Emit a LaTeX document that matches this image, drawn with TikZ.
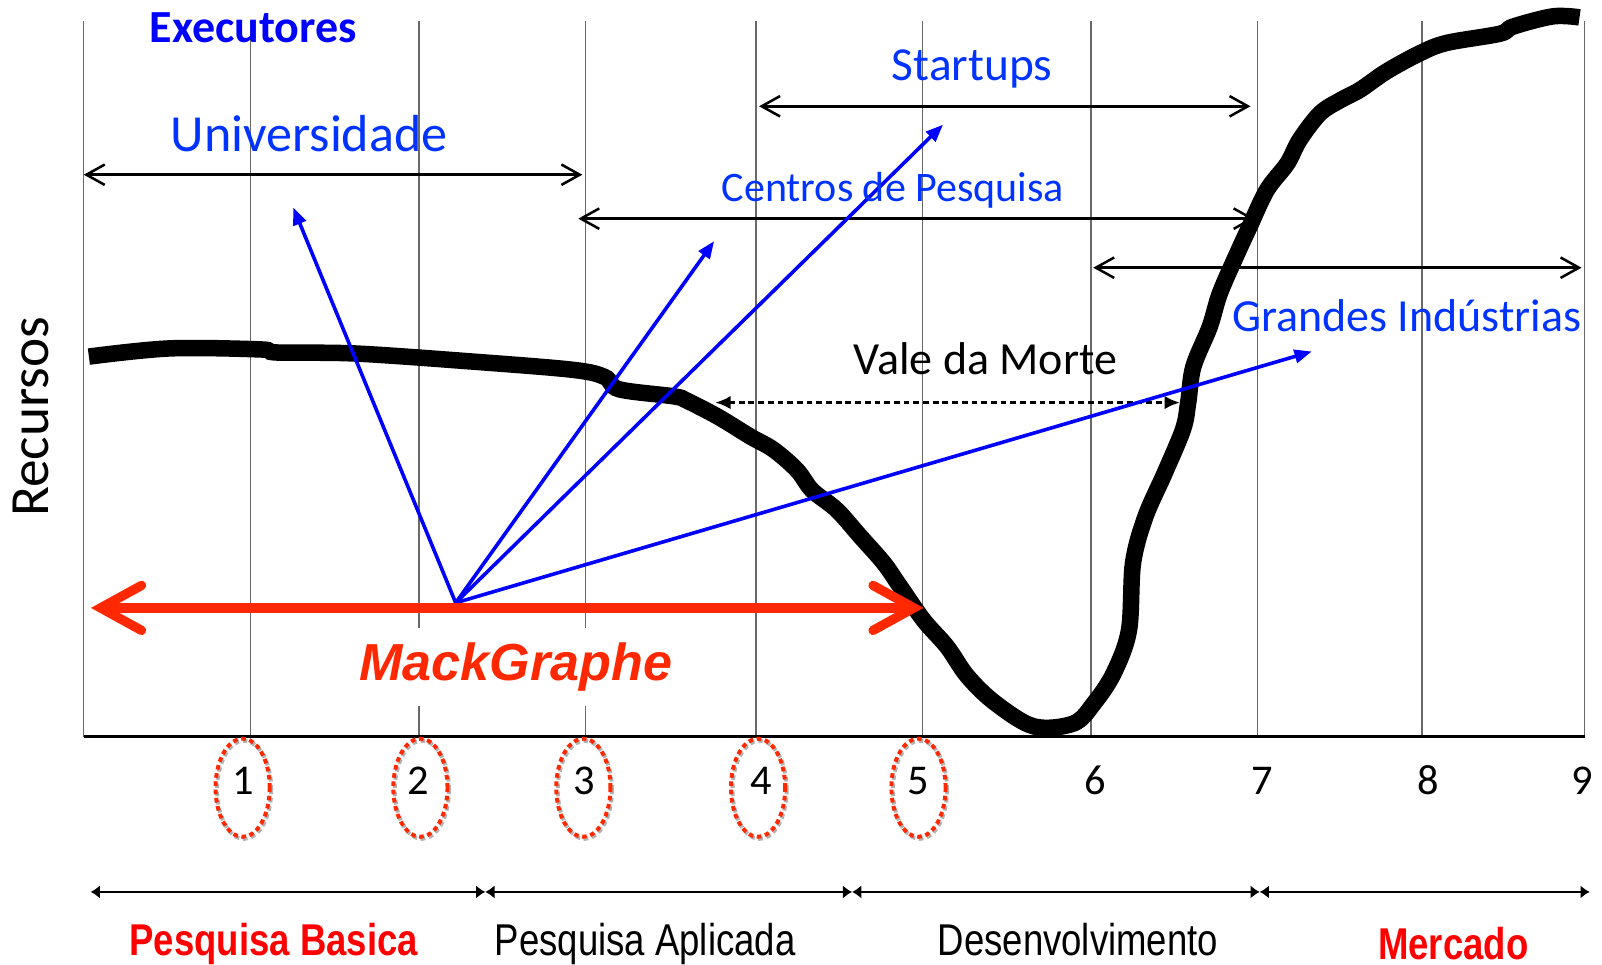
\documentclass[tikz,border=0pt]{standalone}
\usepackage{fontspec}
\setmainfont{Carlito}
\newfontfamily\narrowfont[FakeStretch=0.82]{Liberation Sans}
\newfontfamily\mackfont{Liberation Sans}
\usetikzlibrary{arrows.meta}
\usetikzlibrary{positioning}
\definecolor{mackred}{RGB}{255,40,0}
\definecolor{stagered}{RGB}{255,0,0}
\definecolor{textblue}{RGB}{0,51,255}
\definecolor{linegray}{RGB}{105,105,105}

\begin{document}
\begin{tikzpicture}[
			x=0.01cm, y=-0.01cm,
			gridline/.style={linegray, line width=0.4pt},
			rangearrow/.style={{Straight Barb[length=0.18cm,width=0.2cm]}-{Straight Barb[length=0.18cm,width=0.2cm]}, line width=0.7pt},
			bluearrow/.style={-{Triangle[length=0.17cm,width=0.13cm]}, blue, line width=1pt},
			phase/.style={{Latex[length=0.09cm,width=0.13cm]}-{Latex[length=0.09cm,width=0.13cm]}, line width=0.8pt},
			actor/.style={text=textblue, inner sep=0pt, anchor=base},
			num/.style={inner sep=0pt, anchor=base, font=\fontsize{11.8}{12}\selectfont},
			stage/.style={inner sep=0pt, anchor=base, font=\narrowfont\fontsize{12.4}{13}\selectfont},
			spot/.style={mackred, line width=1.1pt, dash pattern=on 1.3pt off 1pt},
			spotshadow/.style={gray!60, line width=1.1pt, dash pattern=on 1.3pt off 1pt}
		]
		\useasboundingbox (0,0) rectangle (1568,944);

		% Grid and axes
		\foreach \x in {82,245,410,573,740,903,1068,1231,1392,1551}
		\draw[gridline] (\x,21) -- (\x,721);
		\draw[line width=0.8pt] (82,721) -- (1551,721);

		% Ranges of the executors
		\coordinate (univL) at (82,171);    \coordinate (univR) at (570,171);
		\coordinate (startL) at (743,104);  \coordinate (startR) at (1224,104);
		\coordinate (centL) at (566,214);   \coordinate (centR) at (1228,214);
		\coordinate (grandL) at (1070,262); \coordinate (grandR) at (1548,262);
		\foreach \a/\b in {univL/univR,startL/startR,centL/centR,grandL/grandR}
		\draw[rangearrow] (\a) -- (\b);

		% Vale da Morte
		\coordinate (valeL) at (700,394); \coordinate (valeR) at (1155,394);
		\draw[{Latex[length=0.15cm,width=0.13cm]}-{Latex[length=0.15cm,width=0.13cm]}, dash pattern=on 1.6pt off 1.1pt, line width=0.8pt] (valeL) -- (valeR);

		% Resource curve
		\draw[line width=4.6pt] plot[smooth, tension=0.55] coordinates {
				(87,349) (166,341) (255,342) (271,345) (348,346) (464,354) (561,362)
				(592,369) (606,381) (660,388) (672,392) (703,408) (734,427) (757,440)
				(780,460) (795,480) (819,499) (842,525) (865,551) (881,574) (904,607)
				(927,633) (947,662) (974,688) (1012,711) (1051,708) (1071,688) (1090,659)
				(1105,617) (1109,551) (1121,506) (1140,463) (1158,420) (1163,394)
				(1168,359) (1184,320) (1194,287) (1211,248) (1223,222) (1240,186)
				(1260,160) (1272,137) (1292,111) (1312,98) (1331,88) (1357,70)
				(1390,52) (1416,42) (1468,33) (1481,26) (1520,16) (1546,17)};

		% Links from MackGraphe
		\coordinate (src) at (446,590);
		\coordinate (tipUniv) at (287,203);
		\coordinate (tipCent) at (699,236);
		\coordinate (tipStart) at (923,122);
		\coordinate (tipGrand) at (1284,344);
		\foreach \t in {tipUniv,tipCent,tipStart,tipGrand}
		\draw[bluearrow] (src) -- (\t);

		% MackGraphe range
		\coordinate (mackL) at (89,595); \coordinate (mackR) at (904,595);
		\draw[mackred, line width=2.6pt, line cap=round,
			{Straight Barb[length=0.4cm,width=0.44cm,line cap=round]}-{Straight Barb[length=0.4cm,width=0.44cm,line cap=round]}]
		(mackL) -- (mackR);
		\node[font=\mackfont\bfseries\itshape\fontsize{14.5}{15}\selectfont, text=mackred,
			fill=white, inner xsep=2pt, inner ysep=4pt, anchor=base] (mack) at (505,666) {MackGraphe};

		% Labels
		\node[font=\bfseries\fontsize{12.8}{13}\selectfont, text=blue, inner sep=0pt, anchor=base] (exec) at (248,42) {Executores};
		\node[actor, font=\fontsize{14.5}{15}\selectfont] (univ) at (302.5,148.5) {Universidade};
		\node[actor, font=\fontsize{13.2}{14}\selectfont] (startups) at (951.5,79) {Startups};
		\node[actor, font=\fontsize{11.7}{12}\selectfont] (centros) at (874,197.4) {Centros de Pesquisa};
		\node[actor, font=\fontsize{12.8}{13}\selectfont] (grandes) at (1377,324.6) {Grandes Indústrias};
		\node[inner sep=0pt, anchor=base, font=\fontsize{12.8}{13}\selectfont] (vale) at (964.5,367) {Vale da Morte};
		\node[inner sep=0pt, rotate=90, font=\fontsize{15.4}{16}\selectfont] (recursos) at (30,408) {Recursos};

		% Stage numbers
		\foreach \x in {237.5,411.5,571,742,899}{
				\draw[spotshadow, shift={(1.5,2)}] (\x,771) ellipse [x radius=0.265cm, y radius=0.48cm];
				\draw[spot] (\x,771) ellipse [x radius=0.265cm, y radius=0.48cm];
			}
		\foreach \x/\n in {238/1,409/2,572/3,745/4,899/5,1072/6,1235/7,1398/8,1549/9}
		\node[num] (n\n) at (\x,778) {\n};

		% Phases
		\coordinate (ph0) at (88.7,873); \coordinate (ph1) at (475,873);
		\coordinate (ph2) at (834,873);  \coordinate (ph3) at (1233,873);
		\coordinate (ph4) at (1556,873);
		\foreach \a/\b in {ph0/ph1,ph1/ph2,ph2/ph3,ph3/ph4}
		\draw[phase] (\a) -- (\b);
		\node[stage, text=stagered, font=\narrowfont\bfseries\fontsize{12.4}{13}\selectfont] (basica) at (268,935) {Pesquisa Basica};
		\node[stage] (aplicada) at (631.5,935) {Pesquisa Aplicada};
		\node[stage] (desenv) at (1055,935) {Desenvolvimento};
		\node[stage, text=stagered, font=\narrowfont\bfseries\fontsize{12.4}{13}\selectfont] (mercado) at (1422.5,939) {Mercado};

	\end{tikzpicture}
\end{document}
